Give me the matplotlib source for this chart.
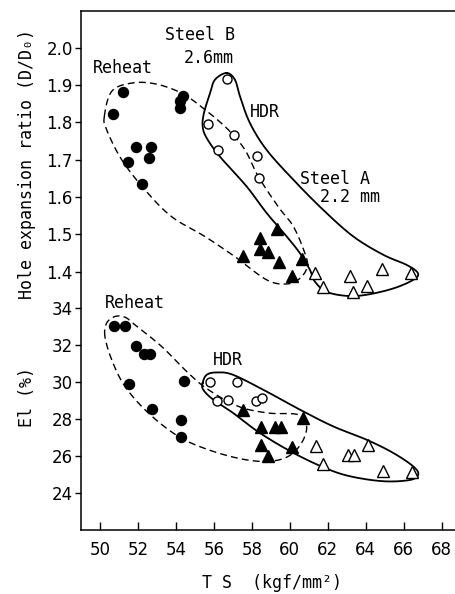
import numpy as np
import matplotlib
matplotlib.use("Agg")
import matplotlib.pyplot as plt

# ---------------- data (TS in kgf/mm2) ----------------
# Upper panel: hole expansion ratio D/D0
reheatB_ts = [50.7, 51.2, 51.9, 52.7, 51.5, 52.6, 52.2, 54.2, 54.4, 54.2]
reheatB_her = [1.823, 1.881, 1.735, 1.735, 1.694, 1.705, 1.636, 1.856, 1.871, 1.838]
hdrB_ts = [56.67, 55.67, 57.08, 56.2, 58.25, 58.36]
hdrB_her = [1.917, 1.796, 1.766, 1.725, 1.710, 1.650]
reheatA_ts = [57.52, 58.43, 58.43, 58.85, 59.41, 59.31, 60.12, 60.66]
reheatA_her = [1.442, 1.491, 1.460, 1.452, 1.427, 1.514, 1.388, 1.435]
hdrA_ts = [61.35, 61.73, 63.17, 63.31, 64.08, 64.86, 66.37]
hdrA_her = [1.397, 1.358, 1.388, 1.346, 1.362, 1.406, 1.396]

# Lower panel: elongation El (%)
reheatB_el_ts = [50.74, 51.33, 51.91, 52.3, 52.65, 51.51, 52.74, 54.44, 54.28, 54.25]
reheatB_el = [33.0, 33.0, 31.95, 31.5, 31.5, 29.9, 28.55, 30.05, 27.95, 27.0]
hdrB_el_ts = [55.78, 57.2, 56.16, 56.74, 58.2, 58.53]
hdrB_el = [30.0, 30.0, 28.97, 29.03, 28.97, 29.1]
reheatA_el_ts = [57.55, 58.5, 59.22, 59.52, 60.68, 58.48, 60.12, 58.85]
reheatA_el = [28.49, 27.56, 27.56, 27.56, 28.04, 26.6, 26.5, 25.97]
hdrA_el_ts = [61.36, 61.77, 63.08, 63.38, 64.1, 64.93, 66.46]
hdrA_el = [26.55, 25.56, 26.03, 26.03, 26.6, 25.16, 25.11]

# Region outlines (closed, clockwise)
upHDR_ts = [56.67, 57.11, 57.38, 57.9, 58.78, 60.19, 61.77, 63.35, 64.93, 66.16, 66.75, 66.51,
            65.46, 64.05, 63.0, 61.94, 61.33, 61.06, 60.54, 59.84, 58.78, 57.73, 56.32,
            55.62, 55.41, 55.48, 55.8, 56.06]
upHDR_her = [1.932, 1.914, 1.869, 1.798, 1.726, 1.646, 1.565, 1.494, 1.445, 1.418, 1.396, 1.378,
             1.355, 1.338, 1.335, 1.346, 1.373, 1.405, 1.449, 1.494, 1.557, 1.628, 1.708,
             1.758, 1.789, 1.825, 1.878, 1.914]
upRH_ts = [50.23, 50.62, 51.67, 52.9, 54.3, 55.53, 56.76, 57.64, 58.34, 59.39, 60.19, 60.8,
           60.92, 60.54, 59.84, 58.78, 57.11, 55.53, 53.78, 52.37, 51.14, 50.35]
upRH_her = [1.816, 1.883, 1.905, 1.903, 1.878, 1.834, 1.78, 1.726, 1.655, 1.574, 1.521, 1.449,
            1.413, 1.382, 1.367, 1.378, 1.44, 1.494, 1.547, 1.619, 1.70, 1.78]
loRH_ts = [50.26, 50.35, 50.79, 51.32, 51.84, 53.25, 54.65, 55.71, 57.29, 58.87, 60.45, 60.89,
           60.62, 59.92, 58.87, 57.47, 55.71, 54.13, 52.55, 51.32, 50.62]
loRH_el = [32.44, 33.16, 33.52, 33.48, 33.07, 31.9, 30.47, 29.57, 28.67, 28.31, 28.22, 27.59,
           26.69, 25.97, 25.7, 25.83, 26.33, 27.05, 28.31, 29.74, 31.18]
loHDR_ts = [55.41, 55.62, 56.15, 57.02, 58.78, 60.54, 62.29, 64.05, 65.45, 66.51, 66.77, 66.34,
            64.93, 63.17, 61.85, 60.19, 58.43, 57.02, 55.97, 55.44]
loHDR_el = [29.93, 30.37, 30.5, 30.37, 29.47, 28.49, 27.59, 26.87, 26.16, 25.43, 24.99, 24.7,
            24.63, 24.9, 25.35, 26.16, 27.23, 28.31, 29.03, 29.57]

x_ticks = [50, 52, 54, 56, 58, 60, 62, 64, 66, 68]
el_ticks = [24, 26, 28, 30, 32, 34]
her_ticks = [1.4, 1.5, 1.6, 1.7, 1.8, 1.9, 2.0]

# ---------------- figure ----------------
W, H = 456, 594
fig = plt.figure(figsize=(W / 100, H / 100), dpi=100)
rect = [81 / W, 1 - 530 / H, (W - 81) / W, (530 - 11) / H]
ax = fig.add_axes(rect)
ax2 = fig.add_axes(rect, sharex=ax)
ax2.patch.set_visible(False)

ax.set_xlim(49.0, 68.76)
ax.set_ylim(22, 50)
ax2.set_ylim(0.708, 2.098)

TXT = dict(family=["DejaVu Sans Mono", "DejaVu Sans"], fontsize=12, color="black")
lw = 1.1

for s in ["right"]:
    ax.spines[s].set_visible(False)
for s in ["left", "bottom", "top"]:
    ax.spines[s].set_linewidth(lw)
for s in ax2.spines.values():
    s.set_visible(False)

ax.set_xticks(x_ticks)
ax.set_yticks(el_ticks)
ax2.set_yticks(her_ticks)
ax2.set_yticklabels([f"{v:.1f}" for v in her_ticks])
ax.tick_params(axis="x", direction="in", length=6, width=1.0, pad=8, labelsize=12)
ax.tick_params(axis="y", direction="out", length=4, width=1.0, pad=2, labelsize=12)
ax2.tick_params(axis="y", direction="out", length=4, width=1.0, pad=2, labelsize=12)
ax2.tick_params(axis="x", bottom=False, labelbottom=False)


def closed_smooth(axis, xs, ys, n=16):
    pts = axis.transData.transform(np.column_stack([xs, ys]))
    m = len(pts)
    out = []
    for i in range(m):
        p0, p1, p2, p3 = pts[(i - 1) % m], pts[i], pts[(i + 1) % m], pts[(i + 2) % m]
        t = np.linspace(0, 1, n, endpoint=False)[:, None]
        seg = 0.5 * ((2 * p1) + (-p0 + p2) * t + (2 * p0 - 5 * p1 + 4 * p2 - p3) * t ** 2
                     + (-p0 + 3 * p1 - 3 * p2 + p3) * t ** 3)
        out.append(seg)
    out = np.vstack(out + [out[0][:1]])
    d = axis.transData.inverted().transform(out)
    return d[:, 0], d[:, 1]


# outlines
cx, cy = closed_smooth(ax2, upHDR_ts, upHDR_her)
ax2.plot(cx, cy, color="black", lw=1.3, zorder=2)
cx, cy = closed_smooth(ax2, upRH_ts, upRH_her)
ax2.plot(cx, cy, color="black", lw=1.0, ls=(0, (5, 3)), zorder=2)
cx, cy = closed_smooth(ax, loRH_ts, loRH_el)
ax.plot(cx, cy, color="black", lw=1.0, ls=(0, (5, 3)), zorder=2)
cx, cy = closed_smooth(ax, loHDR_ts, loHDR_el)
ax.plot(cx, cy, color="black", lw=1.3, zorder=2)

# markers
fc = dict(ls="none", marker="o", ms=7.2, mfc="black", mec="black", zorder=4)
oc = dict(ls="none", marker="o", ms=6.5, mfc="white", mec="black", mew=1.0, zorder=4)
ft = dict(ls="none", marker="^", ms=8.5, mfc="black", mec="black", zorder=4)
ot = dict(ls="none", marker="^", ms=8.0, mfc="white", mec="black", mew=1.0, zorder=4)

ax2.plot(reheatB_ts, reheatB_her, **fc)
ax2.plot(hdrB_ts, hdrB_her, **oc)
ax2.plot(reheatA_ts, reheatA_her, **ft)
ax2.plot(hdrA_ts, hdrA_her, **ot)

ax.plot(reheatB_el_ts, reheatB_el, **fc)
ax.plot(hdrB_el_ts, hdrB_el, **oc)
ax.plot(reheatA_el_ts, reheatA_el, **ft)
ax.plot(hdrA_el_ts, hdrA_el, **ot)

# annotations
ax2.text(49.63, 1.946, "Reheat", va="center", ha="left", **TXT)
ax2.text(53.42, 2.034, "Steel B", va="center", ha="left", **TXT)
ax2.text(54.43, 1.972, "2.6mm", va="center", ha="left", **TXT)
ax2.text(57.9, 1.828, "HDR", va="center", ha="left", **TXT)
ax2.text(60.54, 1.648, "Steel A", va="center", ha="left", **TXT)
ax2.text(61.59, 1.600, "2.2 mm", va="center", ha="left", **TXT)
ax.text(50.26, 34.27, "Reheat", va="center", ha="left", **TXT)
ax.text(55.95, 31.17, "HDR", va="center", ha="left", **TXT)

# axis labels
fig.text(27 / W, 1 - 163.5 / H, "Hole expansion ratio (D/D\u2080)", rotation=90,
         ha="center", va="center", **TXT)
fig.text(27 / W, 1 - 397 / H, "El (%)", rotation=90, ha="center", va="center", **TXT)
fig.text(272 / W, 1 - 583 / H, "T S  (kgf/mm\u00b2)", ha="center", va="center", **TXT)

fig.savefig("out.png", dpi=100)
